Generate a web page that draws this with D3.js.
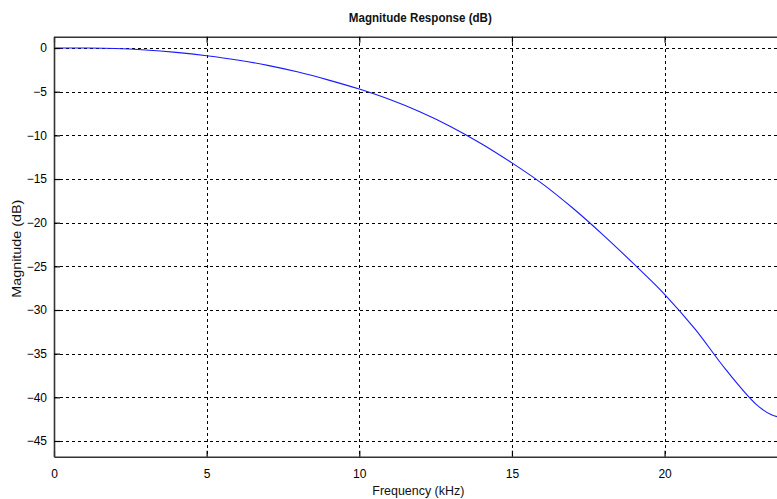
<!DOCTYPE html>
<html>
<head>
<meta charset="utf-8">
<script src="https://cdn.jsdelivr.net/npm/d3@7"></script>
<style>
  html, body { margin: 0; padding: 0; background: #fff; overflow: hidden; }
  svg { display: block; font-family: "Liberation Sans", Arial, sans-serif; }
</style>
</head>
<body>
<svg id="chart" width="777" height="499"></svg>
<script>
// Filter magnitude response, frequency in kHz, magnitude in dB
const freqKHz = [0, 1, 2, 3, 4, 5, 6, 7, 8, 9, 10, 11, 12, 13, 14, 15, 16, 17, 18, 19, 20, 21, 22, 23, 23.5, 24];
const magnitudeDb = [0, 0, -0.05, -0.22, -0.5, -0.88, -1.36, -1.98, -2.75, -3.67, -4.7, -5.9, -7.32, -9.0, -10.95, -13.15, -15.55, -18.35, -21.45, -24.75, -28.2, -32.2, -36.8, -40.8, -42.0, -42.4];

const xTicks = [0, 5, 10, 15, 20];
const yTicks = [0, -5, -10, -15, -20, -25, -30, -35, -40, -45];
const xDomain = [0, 24];
const yDomain = [-46.8, 1.3];

const titleText = "Magnitude Response (dB)";
const xLabelText = "Frequency (kHz)";
const yLabelText = "Magnitude (dB)";

const svg = d3.select("#chart");
const plot = { left: 54, top: 36.7, right: 786.7, bottom: 456.7 };

const x = d3.scaleLinear().domain(xDomain).range([plot.left, plot.right]);
const y = d3.scaleLinear().domain(yDomain).range([plot.bottom, plot.top]);

// grid
const grid = svg.append("g").attr("stroke", "#000").attr("stroke-width", 1)
  .attr("stroke-dasharray", "3,3").attr("shape-rendering", "crispEdges");
grid.selectAll("line.gx").data(xTicks.filter(d => d > 0)).join("line")
  .attr("x1", d => Math.round(x(d)) + 0.5).attr("x2", d => Math.round(x(d)) + 0.5)
  .attr("y1", plot.top).attr("y2", plot.bottom);
grid.selectAll("line.gy").data(yTicks).join("line")
  .attr("y1", d => Math.round(y(d)) + 0.5).attr("y2", d => Math.round(y(d)) + 0.5)
  .attr("x1", plot.left).attr("x2", plot.right);

// response curve
const line = d3.line().x((d, i) => x(freqKHz[i])).y(d => y(d)).curve(d3.curveCatmullRom.alpha(0.5));
svg.append("path").datum(magnitudeDb)
  .attr("d", line).attr("fill", "none").attr("stroke", "#1a1aff").attr("stroke-width", 1.1);

// axes (ticks pointing inward)
const axisColor = "#333";
const bottomAxis = svg.append("g").attr("transform", `translate(0,${plot.bottom})`)
  .call(d3.axisBottom(x).tickValues(xTicks).tickSizeInner(-6).tickSizeOuter(0).tickPadding(13));
const topAxis = svg.append("g").attr("transform", `translate(0,${plot.top})`)
  .call(d3.axisTop(x).tickValues(xTicks).tickSizeInner(-6).tickSizeOuter(0).tickFormat(""));
const leftAxis = svg.append("g").attr("transform", `translate(${plot.left},0)`)
  .call(d3.axisLeft(y).tickValues(yTicks).tickSizeInner(-6).tickSizeOuter(0).tickPadding(12));

[bottomAxis, topAxis, leftAxis].forEach(g => {
  g.select(".domain").attr("stroke", axisColor).attr("stroke-width", 1.6);
  g.selectAll(".tick line").attr("stroke", "#000").attr("stroke-width", 1.2);
  g.selectAll(".tick text").attr("fill", "#000").attr("font-size", 12)
    .attr("font-family", "'Liberation Sans', Arial, sans-serif");
});
leftAxis.selectAll(".tick text").attr("dx", 5);

// title and axis labels
svg.append("text").attr("x", (plot.left + plot.right) / 2).attr("y", 22)
  .attr("text-anchor", "middle").attr("font-size", 12).attr("fill", "#111")
  .attr("font-weight", "bold").attr("textLength", 143).attr("lengthAdjust", "spacingAndGlyphs")
  .text(titleText);
svg.append("text").attr("x", (plot.left + plot.right) / 2 - 2).attr("y", 495)
  .attr("text-anchor", "middle").attr("font-size", 12).attr("fill", "#111")
  .attr("textLength", 92).attr("lengthAdjust", "spacingAndGlyphs")
  .text(xLabelText);
svg.append("text")
  .attr("transform", `translate(21,${(plot.top + plot.bottom) / 2 + 2}) rotate(-90)`)
  .attr("text-anchor", "middle").attr("font-size", 12).attr("fill", "#111")
  .attr("textLength", 98).attr("lengthAdjust", "spacingAndGlyphs")
  .text(yLabelText);
</script>
</body>
</html>
